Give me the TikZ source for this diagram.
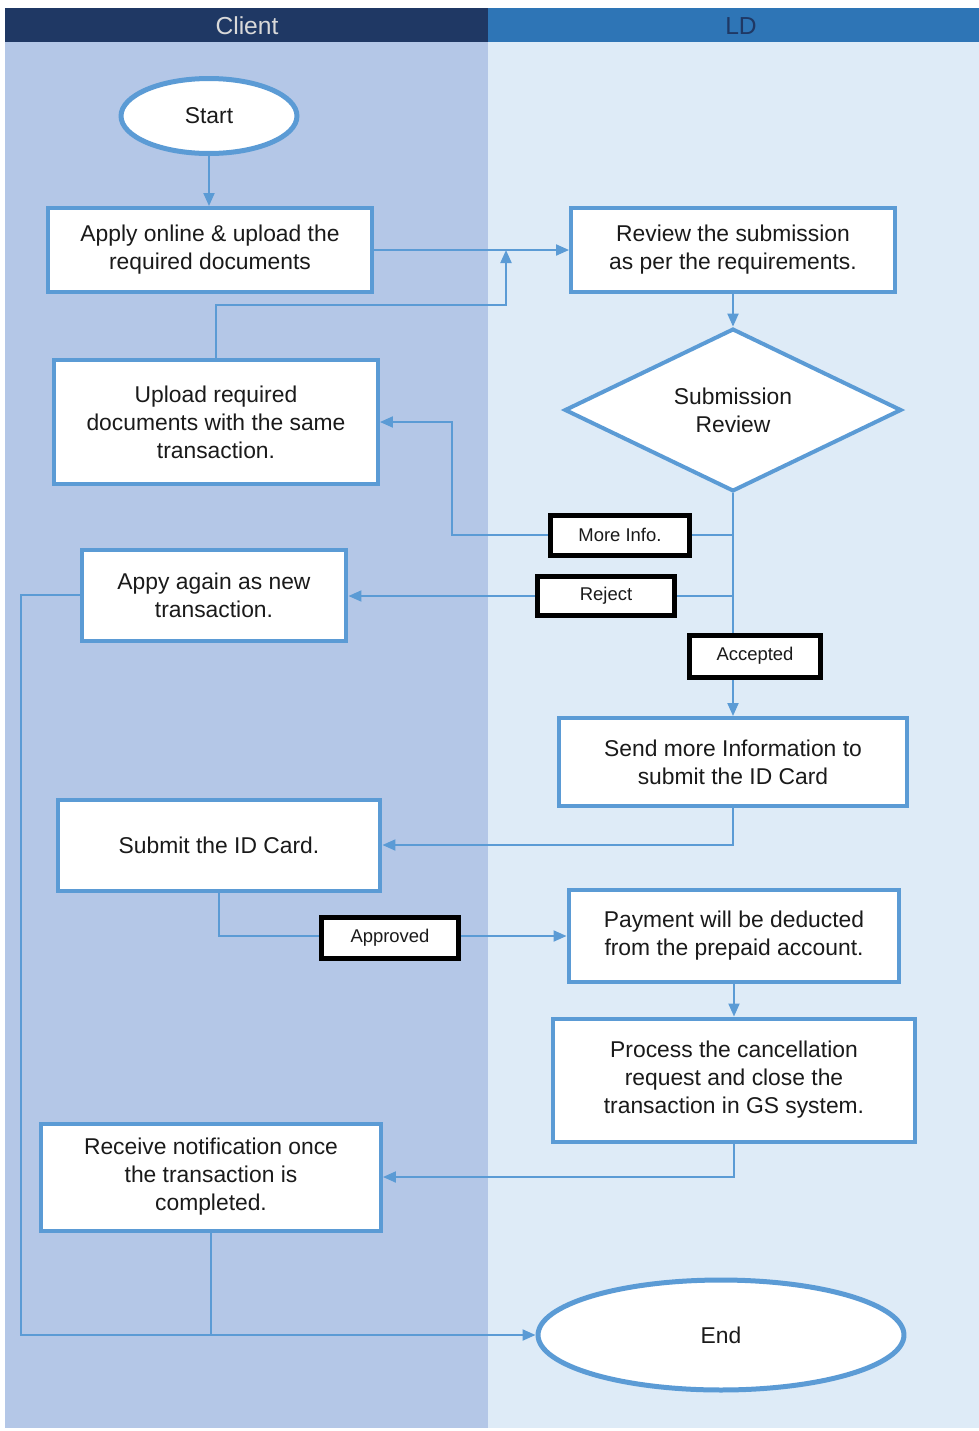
\documentclass[tikz,border=0pt]{standalone}
\usepackage{fontspec}
\setmainfont{Liberation Sans}
\usetikzlibrary{shapes.geometric,arrows.meta}
\definecolor{navy}{HTML}{1F3864}
\definecolor{ldhead}{HTML}{2E75B6}
\definecolor{clientlane}{HTML}{B4C7E7}
\definecolor{ldlane}{HTML}{DEEBF7}
\definecolor{edgeblue}{HTML}{5B9BD5}
\definecolor{ink}{HTML}{1A1A1A}
\begin{document}
\begin{tikzpicture}[x=0.02cm, y=-0.02cm,
  every node/.style={font=\fontsize{13}{15.9}\selectfont, text=ink},
  box/.style={rectangle, draw=edgeblue, line width=0.08cm, fill=white, align=center, inner sep=0pt},
  term/.style={ellipse, draw=edgeblue, line width=0.1cm, fill=white, inner sep=0pt},
  choice/.style={diamond, draw=edgeblue, line width=0.08cm, fill=white, align=center, inner sep=0pt},
  tag/.style={rectangle, draw=black, line width=0.1cm, fill=white, inner sep=0pt, font=\fontsize{10.5}{12}\selectfont},
  flow/.style={draw=edgeblue, line width=0.04cm, -{Triangle[length=0.26cm,width=0.22cm]}},
  link/.style={draw=edgeblue, line width=0.04cm}]
\useasboundingbox (0,0) rectangle (979,1431);
\fill[white] (0,0) rectangle (979,1431);
\fill[clientlane] (5,42) rectangle (488,1428);
\fill[ldlane] (488,42) rectangle (979,1428);
\fill[navy] (5,8) rectangle (488,42);
\fill[ldhead] (488,8) rectangle (979,42);
\node[text=white!85!black, font=\fontsize{14}{16}\selectfont] (client) at (247,26) {Client};
\node[text=navy, font=\fontsize{14}{16}\selectfont] (ld) at (741,26) {LD};

\node[term, minimum width=3.52cm, minimum height=1.5cm] (start) at (209,116) {Start};
\node[box, minimum width=6.48cm, minimum height=1.68cm] (apply) at (210,250) {Apply online \& upload the\\required documents};
\node[box, minimum width=6.48cm, minimum height=1.7cm] (review) at (733,250) {Review the submission\\as per the requirements.};
\node[choice, minimum width=6.74cm, minimum height=3.2cm] (check) at (733,410) {Submission\\Review};
\node[box, minimum width=6.48cm, minimum height=2.5cm] (upload) at (216,422) {Upload required\\documents with the same\\transaction.};
\node[box, minimum width=5.3cm, minimum height=1.82cm] (again) at (214,595) {Appy again as new\\transaction.};
\node[box, minimum width=6.98cm, minimum height=1.76cm] (send) at (733,762) {Send more Information to\\submit the ID Card};
\node[box, minimum width=6.46cm, minimum height=1.82cm] (submit) at (219,845) {Submit the ID Card.};
\node[box, minimum width=6.62cm, minimum height=1.84cm] (payment) at (734,936) {Payment will be deducted\\from the prepaid account.};
\node[box, minimum width=7.26cm, minimum height=2.46cm] (process) at (734,1080) {Process the cancellation\\request and close the\\transaction in GS system.};
\node[box, minimum width=6.8cm, minimum height=2.14cm] (receive) at (211,1177) {Receive notification once\\the transaction is\\completed.};
\node[term, minimum width=7.32cm, minimum height=2.2cm] (end) at (721,1335) {End};

\coordinate (mergeup) at (506,305);
\coordinate (morebend) at (452,535);
\coordinate (morefork) at (733,535);
\coordinate (rejectfork) at (733,596);
\coordinate (againbend) at (21,595);

\draw[flow] (start.south) -- (start.south |- apply.north);
\draw[flow] (apply.east) -- (review.west);
\draw[flow] (upload.north) |- (mergeup) -- (mergeup |- apply.east);
\draw[flow] (review) -- (check);
\draw[flow] (check.south) -- (send.north);
\draw[flow] (morefork) -- (morebend) |- (upload.east);
\draw[flow] (rejectfork) -- (rejectfork -| again.east);
\draw[flow] (again.west) -- (againbend) |- (end.west);
\draw[flow] (send.south) |- (submit.east);
\draw[flow] (submit.south) |- (payment.west);
\draw[flow] (payment) -- (process);
\draw[flow] (process.south) |- (receive.east);
\draw[link] (receive.south) -- (receive.south |- end.west);

\node[tag, minimum width=2.8cm, minimum height=0.8cm] (moreinfo) at (620,535) {More Info.};
\node[tag, minimum width=2.76cm, minimum height=0.78cm] (reject) at (606,596) {Reject};
\node[tag, minimum width=2.62cm, minimum height=0.84cm] (accepted) at (755,656) {Accepted};
\node[tag, minimum width=2.76cm, minimum height=0.82cm] (approved) at (390,938) {Approved};
\end{tikzpicture}
\end{document}
